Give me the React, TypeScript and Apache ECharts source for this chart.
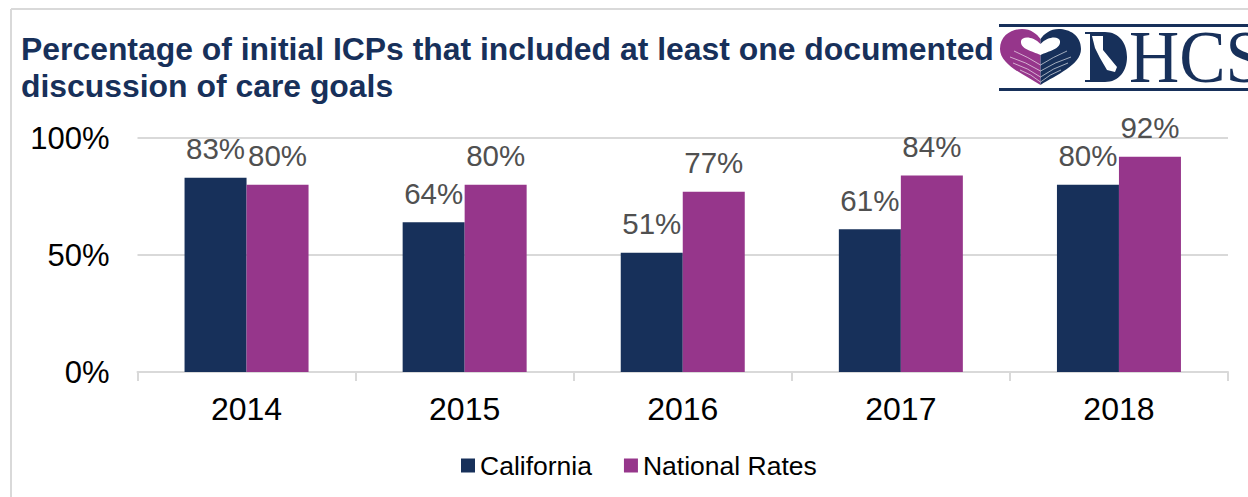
import React, { useEffect, useRef } from "react";
import * as echarts from "echarts";

const titleText = "Percentage of initial ICPs that included at least one documented\ndiscussion of care goals";
const categories = ["2014", "2015", "2016", "2017", "2018"];
const california = [83, 64, 51, 61, 80];
const nationalRates = [80, 80, 77, 84, 92];
const NAVY = "#17305a";
const PURPLE = "#96368b";
const GREY = "#d9d9d9";
const FONT = '"Liberation Sans", Arial, sans-serif';

echarts.graphic.registerShape("heartLeft", echarts.graphic.extendPath("M40.5 56 C25 46 0 36 0 20 C0 6 12 0 22 0 C31 0 37 5 40.5 10 Z", {}));
echarts.graphic.registerShape("heartRight", echarts.graphic.extendPath("M40.5 56 C56 46 81 36 81 20 C81 6 69 0 59 0 C50 0 44 5 40.5 10 Z", {}));
echarts.graphic.registerShape("heartInner", echarts.graphic.extendPath("M40.5 26 C32 22 20 20 21 12 C22 7 33 7 40.5 15 C48 7 59 7 60 12 C61 20 49 22 40.5 26 Z", {}));
echarts.graphic.registerShape("heartLines", echarts.graphic.extendPath("M14 22 Q28 28 40.5 36 Q53 28 67 22 M10 28 Q26 33 40.5 42 Q55 33 71 28 M13 34 Q28 39 40.5 48 Q53 39 68 34 M20 41 Q31 45 40.5 53 Q50 45 61 41", {}));
echarts.graphic.registerShape("dhcsD", echarts.graphic.extendPath("M0 0 H20 C34 0 42 11 42 25 C42 39 34 50 20 50 H0 V48 H5 V2 H0 Z", {}));
echarts.graphic.registerShape("dhcsCal", echarts.graphic.extendPath("M7 4 L18 4 L18 18 L32 35 L30 40 L22 38 L15 26 L10 16 Z", {}));

const labelStyle = {
  show: true,
  position: "top",
  distance: 14,
  formatter: "{c}%",
  fontSize: 29.5,
  fontFamily: FONT,
  color: "#505050",
};

export default function App() {
  const ref = useRef<HTMLDivElement>(null);
  useEffect(() => {
    document.body.style.margin = "0";
    const chart = echarts.init(ref.current!, null, { renderer: "svg" });
    chart.setOption({
      animation: false,
      backgroundColor: "#ffffff",
      title: {
        text: titleText,
        left: 16,
        top: 25,
        textStyle: { fontFamily: FONT, fontWeight: "bold", fontSize: 31.9, lineHeight: 37, color: NAVY },
      },
      grid: { left: 137.5, right: 20, top: 138, bottom: 125, containLabel: false },
      legend: {
        left: 456,
        top: 447,
        itemWidth: 14,
        itemHeight: 14,
        itemGap: 32,
        icon: "rect",
        textStyle: { fontFamily: FONT, fontSize: 26.5, color: "#000000" },
      },
      xAxis: {
        type: "category",
        data: categories,
        axisLine: { lineStyle: { color: GREY, width: 2 } },
        axisTick: { show: true, length: 9, lineStyle: { color: GREY, width: 2 } },
        axisLabel: { fontFamily: FONT, fontSize: 32, color: "#000000", margin: 21 },
      },
      yAxis: {
        type: "value",
        min: 0,
        max: 100,
        interval: 50,
        axisLine: { show: false },
        axisTick: { show: false },
        splitLine: { lineStyle: { color: GREY, width: 2 } },
        axisLabel: { formatter: "{value}%", fontFamily: FONT, fontSize: 31, color: "#000000", margin: 28 },
      },
      series: [
        { name: "California", type: "bar", data: california, barWidth: 62, barGap: 0, itemStyle: { color: NAVY }, label: labelStyle },
        { name: "National Rates", type: "bar", data: nationalRates, barWidth: 62, barGap: 0, itemStyle: { color: PURPLE }, label: labelStyle },
      ],
      graphic: [
        { type: "line", z: 1, shape: { x1: 11, y1: 9, x2: 1248, y2: 9 }, style: { stroke: GREY, lineWidth: 2 } },
        { type: "line", z: 1, shape: { x1: 11, y1: 9, x2: 11, y2: 497 }, style: { stroke: GREY, lineWidth: 2 } },
        { type: "rect", z: 10, shape: { x: 999, y: 24, width: 249, height: 67 }, style: { fill: "#ffffff" } },
        { type: "rect", z: 11, shape: { x: 999, y: 24, width: 249, height: 3 }, style: { fill: NAVY } },
        { type: "rect", z: 11, shape: { x: 999, y: 88, width: 249, height: 3 }, style: { fill: NAVY } },
        { type: "heartLeft", z: 11, x: 1000, y: 29, style: { fill: PURPLE } },
        { type: "heartRight", z: 11, x: 1000, y: 29, style: { fill: NAVY } },
        { type: "heartInner", z: 12, x: 1000, y: 29, style: { fill: "#ffffff" } },
        { type: "heartLines", z: 12, x: 1000, y: 29, style: { fill: "none", stroke: "#ffffff", lineWidth: 1, opacity: 0.6 } },
        { type: "dhcsD", z: 11, x: 1085, y: 32, style: { fill: NAVY } },
        { type: "dhcsCal", z: 12, x: 1085, y: 32, style: { fill: "#ffffff" } },
        { type: "text", z: 11, x: 1129, y: 57, scaleX: 0.94, style: { text: "HCS", fill: NAVY, fontFamily: '"Liberation Serif", serif', fontSize: 74, verticalAlign: "middle" } },
      ],
    });
    return () => chart.dispose();
  }, []);
  return <div ref={ref} style={{ width: 1248, height: 497 }} />;
}
